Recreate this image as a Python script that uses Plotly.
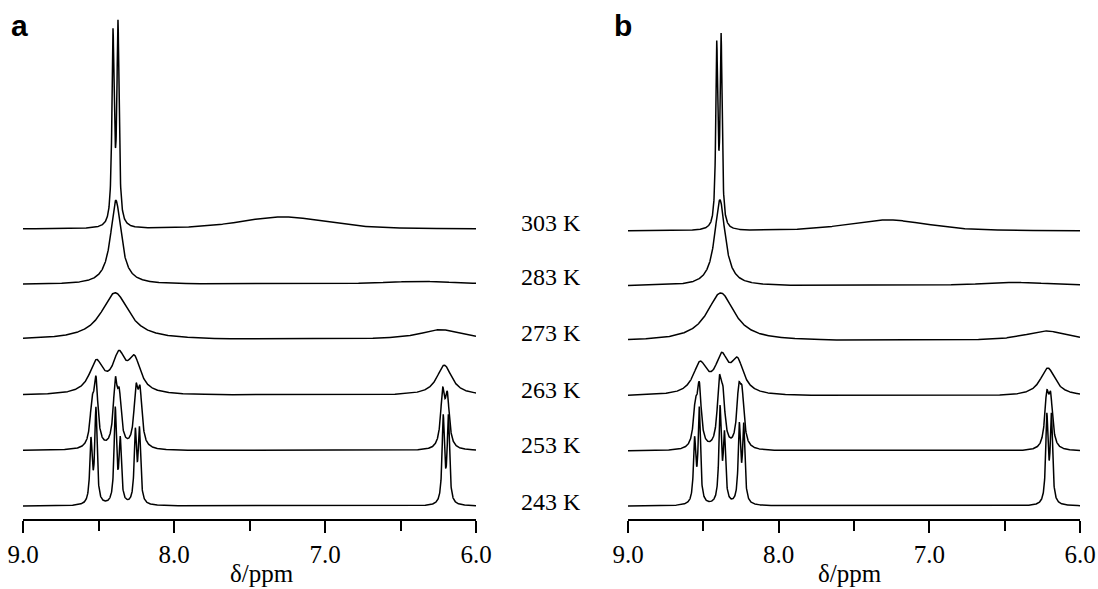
import numpy as np
import plotly.graph_objects as go

# ---------------- data ----------------
temps = ["303 K", "283 K", "273 K", "263 K", "253 K", "243 K"]   # top -> bottom
x_ticks = [9.0, 8.0, 7.0, 6.0]
x_tick_labels = ["9.0", "8.0", "7.0", "6.0"]

# peak tables: (shift / ppm, amplitude, half-width / ppm[, lorentzian fraction])
# panel a (experimental)
a_303 = [(8.404, 188, 0.0085), (8.371, 197, 0.0085), (7.28, 12, 0.34, 0.4)]
a_283 = [(8.385, 84, 0.042), (6.38, 3.0, 0.30)]
a_273 = [(8.390, 47, 0.11), (6.235, 10, 0.17)]
a_263 = [(8.515, 31, 0.055), (8.365, 35, 0.050), (8.262, 32, 0.050), (6.210, 30, 0.060)]
a_253 = [(8.543, 36, 0.016), (8.517, 63, 0.016), (8.389, 60, 0.016), (8.362, 44, 0.016),
         (8.252, 52, 0.016), (8.225, 50, 0.016), (6.221, 53, 0.016), (6.190, 48, 0.016)]
a_243 = [(8.550, 62, 0.009), (8.517, 94, 0.009), (8.389, 94, 0.009), (8.356, 62, 0.009),
         (8.256, 70, 0.009), (8.229, 72, 0.009), (6.217, 86, 0.009), (6.183, 86, 0.009)]

# panel b (simulated)
b_303 = [(8.411, 178, 0.0077), (8.382, 186, 0.0077), (7.28, 11, 0.32, 0.4)]
b_283 = [(8.390, 86, 0.042), (6.42, 3.5, 0.30)]
b_273 = [(8.385, 48, 0.11), (6.225, 10, 0.17)]
b_263 = [(8.522, 30, 0.055), (8.378, 34, 0.050), (8.274, 31, 0.050), (6.214, 28, 0.060)]
b_253 = [(8.553, 36, 0.016), (8.527, 58, 0.016), (8.394, 60, 0.016), (8.370, 44, 0.016),
         (8.265, 50, 0.016), (8.243, 46, 0.016), (6.221, 48, 0.016), (6.195, 46, 0.016)]
b_243 = [(8.558, 62, 0.009), (8.527, 94, 0.009), (8.389, 94, 0.009), (8.360, 66, 0.009),
         (8.261, 76, 0.009), (8.232, 76, 0.009), (6.220, 86, 0.009), (6.190, 86, 0.009)]

panel_a = [a_303, a_283, a_273, a_263, a_253, a_243]
panel_b = [b_303, b_283, b_273, b_263, b_253, b_243]

# ---------------- build figure ----------------
W, H = 1098, 589
PLOT_H = 519                      # plot area height in px (margin b = 70)
ppm = np.linspace(9.0, 6.0, 3001)


def spectrum(peaks):
    y = np.zeros_like(ppm)
    for pk in peaks:
        c, a, w = pk[:3]
        eta = pk[3] if len(pk) > 3 else 1.0
        d = ppm - c
        lor = w * w / (w * w + d ** 2)
        gau = np.exp(-np.log(2) * (d / w) ** 2)
        y += a * (eta * lor + (1 - eta) * gau)
    return y


fig = go.Figure()
n = len(temps)
for panel, xa, ya, spacing in [(panel_a, "x", "y", 55.4), (panel_b, "x2", "y2", 55.0)]:
    for i, peaks in enumerate(panel):
        offset = 13 + (n - 1 - i) * spacing
        fig.add_trace(go.Scatter(x=ppm, y=spectrum(peaks) + offset, mode="lines",
                                 line=dict(color="black", width=1.5),
                                 xaxis=xa, yaxis=ya, showlegend=False, hoverinfo="skip"))

serif = "Liberation Serif"
axis_common = dict(range=[9.0, 6.0], showline=True, linecolor="black", linewidth=1.6,
                   automargin=False,
                   ticks="outside", ticklen=12, tickwidth=2, tickcolor="black",
                   tickvals=x_ticks, ticktext=x_tick_labels, showgrid=False, zeroline=False,
                   tickfont=dict(family=serif, size=25, color="black"),
                   minor=dict(ticks="outside", ticklen=10, tickwidth=2, tickcolor="black",
                              dtick=0.5, tick0=6.0, showgrid=False))
yaxis_common = dict(range=[0, PLOT_H], visible=False, fixedrange=True, automargin=False)

fig.update_layout(
    width=W, height=H, margin=dict(l=0, r=0, t=0, b=H - PLOT_H, autoexpand=False),
    font=dict(family=serif, color="black"),
    paper_bgcolor="white", plot_bgcolor="white",
    xaxis=dict(domain=[23 / W, 476 / W], anchor="y", **axis_common),
    xaxis2=dict(domain=[628 / W, 1080 / W], anchor="y2", **axis_common),
    yaxis=dict(anchor="x", **yaxis_common),
    yaxis2=dict(anchor="x2", **yaxis_common),
)


def py(p):
    return (PLOT_H - p) / PLOT_H


ann = []
# temperature labels
label_centres = [223, 277, 333, 390, 445, 502]
for t, yc in zip(temps, label_centres):
    ann.append(dict(text=t, x=551 / W, y=py(yc), xref="paper", yref="paper",
                    xanchor="center", yanchor="middle", showarrow=False,
                    font=dict(family=serif, size=24, color="black")))
# panel letters
for letter, xc in [("a", 19.5), ("b", 623)]:
    ann.append(dict(text="<b>" + letter + "</b>", x=xc / W, y=py(25.5), xref="paper", yref="paper",
                    xanchor="center", yanchor="middle", showarrow=False,
                    font=dict(family="Liberation Sans", size=30, color="black")))
# axis titles
for xc in [261.5, 850]:
    ann.append(dict(text="δ/ppm", x=xc / W, y=py(573), xref="paper", yref="paper",
                    xanchor="center", yanchor="middle", showarrow=False,
                    font=dict(family=serif, size=25, color="black")))
fig.update_layout(annotations=ann)

fig.write_html("out.html")
